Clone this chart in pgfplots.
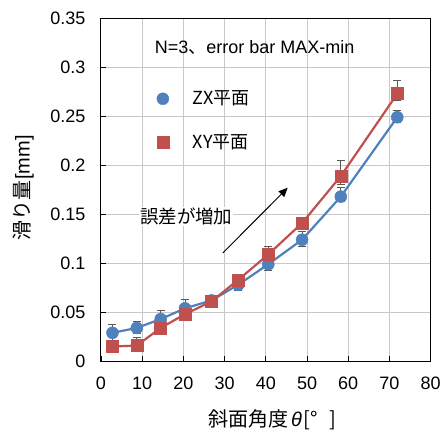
\documentclass[border=0pt]{standalone}
\usepackage{pgfplots}
\pgfplotsset{compat=1.18}
\usepackage{pgfplotstable}
\usepackage{fontspec}
\setmainfont{Liberation Sans}
\newfontfamily\jp{Noto Sans CJK JP}
\usetikzlibrary{arrows.meta}
\definecolor{zxblue}{HTML}{4F81BD}
\definecolor{xyred}{HTML}{C0504D}
\definecolor{errgray}{HTML}{595959}
\definecolor{gridgray}{HTML}{C8C8C8}

\pgfplotstableread{
x y ep em
2.8 0.029 0.008 0.008
8.7 0.034 0.007 0.006
14.5 0.043 0.009 0.007
20.4 0.054 0.009 0.007
26.8 0.062 0.003 0.003
33.3 0.078 0.005 0.006
40.6 0.099 0.006 0.006
48.8 0.124 0.008 0.007
58.2 0.168 0.009 0.005
71.9 0.249 0.007 0.005
}\zxdata

\pgfplotstableread{
x y ep em
2.8 0.015 0.004 0.003
8.7 0.016 0.008 0.004
14.5 0.034 0.004 0.004
20.4 0.048 0.004 0.004
26.8 0.061 0.003 0.003
33.3 0.083 0.005 0.004
40.6 0.109 0.008 0.006
48.8 0.141 0.005 0.005
58.2 0.189 0.016 0.009
71.9 0.273 0.014 0.007
}\xydata

\begin{document}
\begin{tikzpicture}
\begin{axis}[
  at={(0,0)}, anchor=south west,
  scale only axis,
  width=330bp, height=343.2bp,
  xmin=0, xmax=80, ymin=0, ymax=0.35,
  xtick={0,10,...,80},
  xticklabels={0,10,20,30,40,50,60,70,80},
  ytick={0,0.05,0.1,0.15,0.2,0.25,0.3,0.35},
  yticklabels={0,0.05,0.1,0.15,0.2,0.25,0.3,0.35},
  tick pos=left,
  tick align=inside,
  major tick length=5bp,
  tick style={black, line width=0.8bp},
  axis line style={black, line width=1bp},
  grid=major,
  major grid style={gridgray, line width=1bp},
  ticklabel style={font=\fontsize{18bp}{20bp}\selectfont},
  xticklabel style={yshift=-12bp},
  yticklabel style={xshift=-12bp},
  xlabel={\jp 斜面角度\hspace{3bp}{\rmfamily\itshape θ}\hspace{2bp}[°\hspace{0.6em}]},
  ylabel={\jp 滑り量\hspace{1bp}{\rmfamily[mm]}},
  label style={font=\fontsize{20bp}{22bp}\selectfont},
  xlabel style={at={(axis description cs:0.52,-0.17)}, anchor=center},
  ylabel style={at={(axis description cs:-0.235,0.505)}, anchor=center},
  legend style={at={(axis description cs:0.16,0.80)}, anchor=north west,
    draw=none, fill=none, font=\fontsize{18bp}{20bp}\selectfont\jp,
    row sep=24bp},
  legend cell align=left,
  clip=false,
]
\addlegendimage{only marks, mark=*, mark size=6bp, color=zxblue}
\addlegendentry{\hspace{22bp}ZX平面}
\addlegendimage{only marks, mark=square*, mark size=6bp, color=xyred}
\addlegendentry{\hspace{22bp}XY平面}

\addplot+[forget plot, zxblue, line width=2.2bp, mark=*, mark size=6bp,
  mark options={fill=zxblue, draw=zxblue, line width=0.5bp},
  error bars/.cd, y dir=both, y explicit,
  error bar style={errgray, line width=1bp},
  error mark options={rotate=90, mark size=4bp, errgray, line width=1bp}]
  table[x=x, y=y, y error plus=ep, y error minus=em] {\zxdata};

\addplot+[forget plot, xyred, line width=2.2bp, mark=square*, mark size=6bp,
  mark options={fill=xyred, draw=xyred, line width=0.5bp},
  error bars/.cd, y dir=both, y explicit,
  error bar style={errgray, line width=1bp},
  error mark options={rotate=90, mark size=4bp, errgray, line width=1bp}]
  table[x=x, y=y, y error plus=ep, y error minus=em] {\xydata};

\node[font=\fontsize{18bp}{20bp}\selectfont] at (axis cs:37.3,0.3207) {N=3{\jp 、}error bar MAX-min};
\node[font=\fontsize{18.5bp}{20bp}\selectfont\jp, fill=white, inner sep=1bp] at (axis cs:20.7,0.1474) {誤差が増加};
\draw[-{Triangle[length=9bp,width=8bp]}, black, line width=1bp] (axis cs:29.6,0.1106) -- (axis cs:45.3,0.177);
\end{axis}
\path[use as bounding box] (-101bp,-70.5bp) rectangle (343bp,361.5bp);
\end{tikzpicture}
\end{document}
